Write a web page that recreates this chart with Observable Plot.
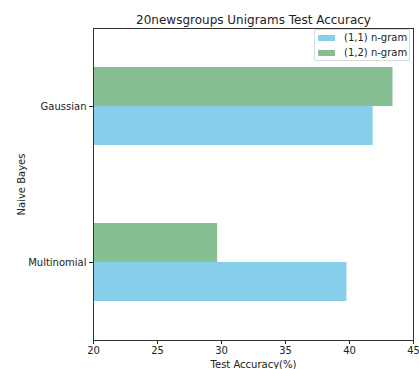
<!DOCTYPE html>
<html>
<head>
<meta charset="utf-8">
<script src="https://cdn.jsdelivr.net/npm/d3@7"></script>
<script src="https://cdn.jsdelivr.net/npm/@observablehq/plot@0.6"></script>
<style>
  body { margin: 0; background: #fff; }
  #wrap { position: relative; width: 419px; height: 369px; font-family: "DejaVu Sans", sans-serif; }
  #legend { position: absolute; left: 314px; top: 29px; width: 96px; height: 32px; border: 1px solid #d9d9d9; border-radius: 2px; background: rgba(255,255,255,0.8); font-size: 10px; color: #222; box-sizing: border-box; }
  .row { position: absolute; left: 3px; display: flex; align-items: center; }
  .sw { width: 17px; height: 6px; margin-right: 9px; }
</style>
</head>
<body>
<div id="wrap"></div>
<script>
const categories = ["Multinomial", "Gaussian"];
const series = ["(1,1) n-gram", "(1,2) n-gram"];
const colors = ["#87ceeb", "#86bf91"];
const unigram11 = [39.8, 41.85];
const unigram12 = [29.7, 43.4];
const xTicks = [20, 25, 30, 35, 40, 45];

const values = [unigram11, unigram12];
const rows = [];
categories.forEach((c, i) => {
  series.forEach((s, j) => {
    rows.push({cat: c, series: s, value: values[j][i], y1: i - 0.25 + j * 0.25, y2: i + j * 0.25});
  });
});

const chart = Plot.plot({
  width: 419,
  height: 369,
  marginLeft: 93,
  marginRight: 6,
  marginTop: 28,
  marginBottom: 29,
  style: {fontFamily: "DejaVu Sans, sans-serif", fontSize: "10px", color: "#222", background: "#fff"},
  x: {domain: [20, 45], ticks: xTicks},
  y: {domain: [-0.5, 1.5]},
  color: {domain: series, range: colors},
  marks: [
    Plot.rectX(rows, {x1: 0, x2: "value", y1: "y1", y2: "y2", fill: "series", clip: true}),
    Plot.axisX({ticks: xTicks, tickSize: 4, tickPadding: 2, fontSize: 10, label: "Test Accuracy(%)", labelAnchor: "center", labelArrow: "none", labelOffset: 27, stroke: "#222"}),
    Plot.axisY({ticks: [0, 1], tickSize: 4, tickPadding: 3, fontSize: 10, tickFormat: i => categories[i], label: "Naive Bayes", labelAnchor: "center", labelArrow: "none", labelOffset: 76, stroke: "#222"}),
    Plot.frame({stroke: "#333", strokeWidth: 1}),
    Plot.text(["20newsgroups Unigrams Test Accuracy"], {frameAnchor: "top", lineAnchor: "bottom", dy: -5, fontSize: 12, fill: "#222", text: d => d})
  ]
});

const wrap = document.getElementById("wrap");
wrap.appendChild(chart);
const legend = document.createElement("div");
legend.id = "legend";
series.forEach((s, j) => {
  const r = document.createElement("div");
  r.className = "row";
  r.style.top = (j === 0 ? 2 : 17) + "px";
  r.innerHTML = `<div class="sw" style="background:${colors[j]}"></div><span>${s}</span>`;
  legend.appendChild(r);
});
wrap.appendChild(legend);
</script>
</body>
</html>
